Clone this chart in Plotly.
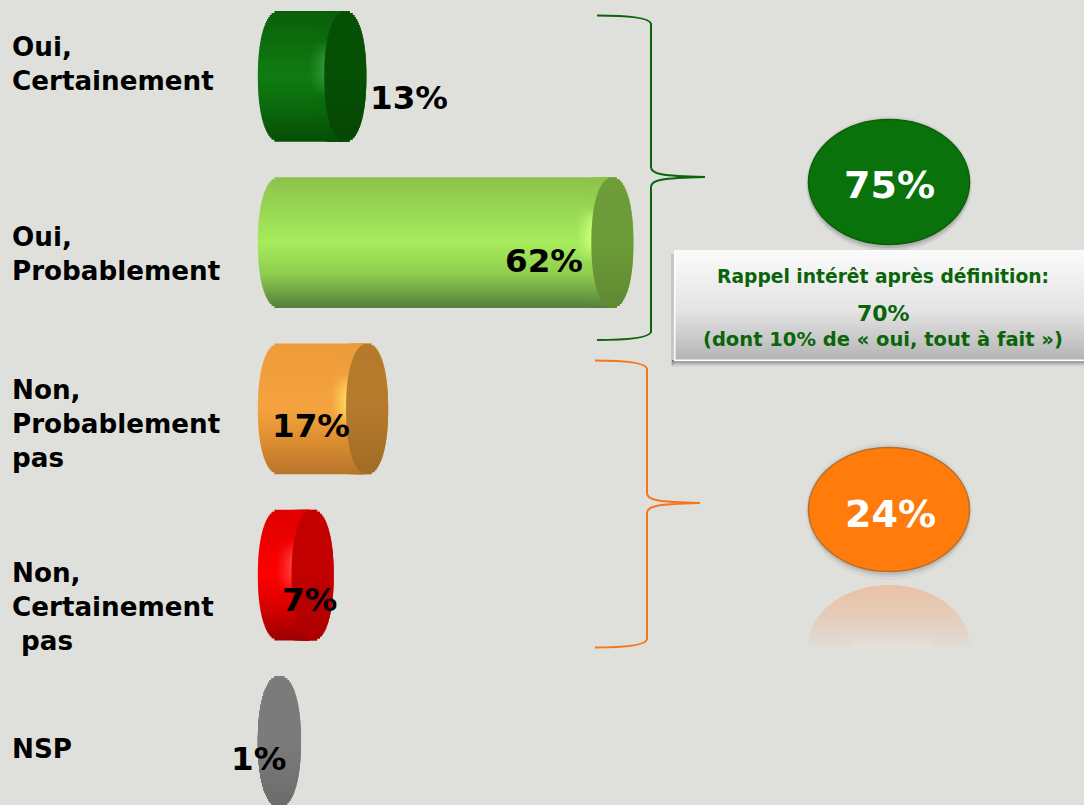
import math
import plotly.graph_objects as go

# ---- data ----
categories = ["Oui,<br>Certainement", "Oui,<br>Probablement", "Non,<br>Probablement<br>pas",
              "Non,<br>Certainement<br> pas", "NSP"]
values = [13, 62, 17, 7, 1]
value_labels = ["13%", "62%", "17%", "7%", "1%"]
group_labels = ["75%", "24%"]
box_lines = ["Rappel intérêt après définition:", "70%", "(dont 10% de « oui, tout à fait »)"]

# ---- styles / layout ----
W, H = 1084, 805
BG = "#dfe0db"
DARK_GREEN = "#0a640a"
ORANGE_LINE = "#f5761a"
FONT = "DejaVu Sans"
PX_PER_UNIT = 5.45
ZERO_PX = 274.5
ROW0_PX = 76.4
ROW_PX = 166.25
BAR_HALF_PX = 65
CAP_RX_PX = 21
BAND_PX = 2
BASELINE = 0.8
# top, middle, lower, bottom, cap, highlight
palettes = [
    ("#0a600a", "#0f7c11", "#0b680c", "#064e06", "#055005", "#2f9435"),
    ("#8cc24c", "#a6ec5c", "#8fcb4e", "#55803a", "#6d9c38", "#c4ff74"),
    ("#ee9b3a", "#f5a33f", "#dc8e30", "#b8752a", "#b57a2c", "#ffd45c"),
    ("#dd0000", "#ff0000", "#d80000", "#9c0000", "#c20000", "#ff3a3a"),
    ("#858585", "#7a7a7a", "#737373", "#6d6d6d", "#7b7b7b", "#7b7b7b"),
]
label_y_px = [64, 254, 424, 607, 749]
value_label_px = [(408.5, 98), (544, 261), (310.5, 426), (309.5, 600), (258.5, 759)]


def rgb(h):
    return tuple(int(h[i:i + 2], 16) for i in (1, 3, 5))


def mix(a, b, f):
    a, b = rgb(a), rgb(b)
    return "#%02x%02x%02x" % tuple(round(a[i] + (b[i] - a[i]) * f) for i in range(3))


def ramp(p, t):
    # t in -1..1 from top to bottom of the cylinder
    u = (t + 1) / 2
    stops = [(0, p[0]), (0.5, p[1]), (0.75, p[2]), (1, p[3])]
    for (a, ca), (b, cb) in zip(stops, stops[1:]):
        if u <= b:
            return mix(ca, cb, (u - a) / (b - a))
    return p[3]


px = lambda n: n / PX_PER_UNIT
RX = px(CAP_RX_PX)
n_bands = BAR_HALF_PX * 2 // BAND_PX
ts = [-1 + (2 * j + 1) / n_bands for j in range(n_bands)]
band_w = (BAND_PX + 0.6) / ROW_PX


def layer(fn):
    """fn(i, v, t, s) -> (x_start, x_end, colour)"""
    ys, base, length, cols = [], [], [], []
    for i, v in enumerate(values):
        for t in ts:
            s = (max(0, 1 - abs(t) ** 2.2)) ** (1 / 2.2)
            x0, x1, c = fn(i, v, t, s)
            if x1 <= x0:
                continue
            ys.append(i + t * BAR_HALF_PX / ROW_PX)
            base.append(x0)
            length.append(x1 - x0)
            cols.append(c)
    return go.Bar(orientation="h", y=ys, x=length, base=base, width=band_w,
                  marker=dict(color=cols, line=dict(width=0)), hoverinfo="skip", showlegend=False)


fig = go.Figure()
# cylinder body
fig.add_trace(layer(lambda i, v, t, s: (BASELINE - RX * s, v + RX * s, ramp(palettes[i], t))))
# glow just left of the end cap
for k, f in zip((15, 12, 9, 6, 3), (0.12, 0.3, 0.5, 0.72, 0.95)):
    fig.add_trace(layer(lambda i, v, t, s, k=k, f=f: (
        max(BASELINE - RX * s, v - RX * s - px(k)),
        v - RX * s + px(1),
        mix(ramp(palettes[i], t), palettes[i][5], f * max(0, 1 - (t + 0.12) ** 2 * 6)))))
# end cap
fig.add_trace(layer(lambda i, v, t, s: (
    v - RX * s, v + RX * s, mix(palettes[i][4], "#000000", 0.12 * max(0, t)))))

shapes = []


def sx(p):
    return p / W


def sy(p):
    return 1 - p / H


def rect(x0, y0, x1, y1, color, opacity=1):
    shapes.append(dict(type="rect", xref="paper", yref="paper", x0=sx(x0), x1=sx(x1), y0=sy(y0), y1=sy(y1),
                       fillcolor=color, opacity=opacity, line=dict(width=0), layer="below"))


def ellipse(cx, cy, rx, ry, color, line=None, opacity=1):
    shapes.append(dict(type="circle", xref="paper", yref="paper", x0=sx(cx - rx), x1=sx(cx + rx),
                       y0=sy(cy - ry), y1=sy(cy + ry), fillcolor=color, opacity=opacity,
                       line=dict(width=1.5 if line else 0, color=line or color), layer="below"))


def path(points, color, width):
    d = "M %.5f,%.5f" % (sx(points[0][0]), sy(points[0][1]))
    rest = points[1:]
    for a in range(0, len(rest), 3):
        d += " C " + " ".join("%.5f,%.5f" % (sx(x), sy(y)) for x, y in rest[a:a + 3])
    shapes.append(dict(type="path", xref="paper", yref="paper", path=d, line=dict(color=color, width=width)))


def line_seg(a, b):
    return [a, a, b]


def brace(xl, xm, xt, y0, ym, y1, color):
    pts = [(xl, y0)]
    pts += [(xm - 22, y0), (xm - 2, y0 + 2), (xm, y0 + 8)]
    pts += line_seg((xm, y0 + 8), (xm, ym - 10))
    pts += [(xm, ym - 3), (xm + 10, ym - 1), (xt, ym)]
    pts += [(xm + 10, ym + 1), (xm, ym + 3), (xm, ym + 10)]
    pts += line_seg((xm, ym + 10), (xm, y1 - 8))
    pts += [(xm - 2, y1 - 2), (xm - 22, y1), (xl, y1)]
    path(pts, color, 2)


brace(597, 651, 705, 15.5, 177, 340, DARK_GREEN)
brace(595, 647, 700, 360.5, 503, 647.5, ORANGE_LINE)

# green badge
for g, o in ((5, 0.08), (3, 0.12), (1, 0.2)):
    ellipse(889, 184, 81 + g * 0.4, 63 + g, "#666666", opacity=o)
ellipse(889, 182, 80.5, 62.5, "#0a720a", line="#0a5f0a")

# orange badge and its reflection
for g, o in ((6, 0.06), (3, 0.1), (1, 0.18)):
    ellipse(889, 511, 81 + g * 0.4, 63 + g, "#777777", opacity=o)
ellipse(889, 509.5, 80.5, 62, "#ff7b0c", line="#b96f2a")
R_TOP, R_BOT, R_CY = 585, 650, 647
for y in range(R_TOP, R_BOT):
    u = min(1, abs(R_CY - (y + 0.5)) / 62)
    half = 81 * math.sqrt(max(0, 1 - u * u))
    fade = (y - R_TOP) / (R_BOT - R_TOP)
    rect(889 - half, y, 889 + half, y + 1.3, mix("#e8c3a8", BG, fade ** 1.4))
for a, o in ((0, 0.04), (4, 0.05), (8, 0.05)):
    rect(846 + a, 632 + a, 934 - a, 650, "#ffffff", o)

# box: shadow and vertical gradient
rect(671, 254, 674, 366, "#a9a9a9", 0.45)
for k, o in enumerate((0.8, 0.65, 0.5, 0.35, 0.22, 0.12, 0.05)):
    rect(672, 360 + k, 1084, 361 + k, "#666666", o)
BOX_TOP, BOX_BOT = 250, 361
for y in range(BOX_TOP, BOX_BOT):
    u = (y - BOX_TOP) / (BOX_BOT - BOX_TOP)
    c = mix("#fbfbfb", "#e3e3e3", u / 0.55) if u < 0.55 else mix("#e3e3e3", "#b2b2b2", (u - 0.55) / 0.45)
    rect(674, y, 1084, y + 1.4, c)
rect(674, 250, 675.5, 361, "#ffffff")
rect(674, 359.5, 1084, 361, "#ffffff")

annotations = []


def text(s, x, y, size, color, anchor="center"):
    annotations.append(dict(text=s, x=sx(x), y=sy(y), xref="paper", yref="paper", xanchor=anchor,
                            yanchor="middle", align="left" if anchor == "left" else "center", showarrow=False,
                            font=dict(family=FONT, size=size, color=color, weight="bold")))


for c, y in zip(categories, label_y_px):
    text(c, 10, y, 26.2, "#000000", "left")
for s, (x, y) in zip(value_labels, value_label_px):
    text(s, x, y, 32.6, "#000000")
text(group_labels[0], 889, 185, 38, "#ffffff")
text(group_labels[1], 890, 514, 38, "#ffffff")
for s, x, y, size in zip(box_lines, (882.5, 883, 882.5), (276, 313, 339), (18.7, 22, 19.5)):
    text(s, x, y, size, DARK_GREEN)

fig.update_layout(
    width=W, height=H, margin=dict(l=0, r=0, t=0, b=0), paper_bgcolor=BG, plot_bgcolor="rgba(0,0,0,0)",
    barmode="overlay", showlegend=False, shapes=shapes, annotations=annotations,
    xaxis=dict(visible=False, range=[-ZERO_PX / PX_PER_UNIT, (W - ZERO_PX) / PX_PER_UNIT], fixedrange=True),
    yaxis=dict(visible=False, range=[(H - ROW0_PX) / ROW_PX, -ROW0_PX / ROW_PX], fixedrange=True),
)
fig.write_html("out.html", config=dict(displayModeBar=False),
               post_script="document.body.style.margin='0';document.body.style.overflow='hidden';"
                           "document.body.style.background='%s';" % BG)
